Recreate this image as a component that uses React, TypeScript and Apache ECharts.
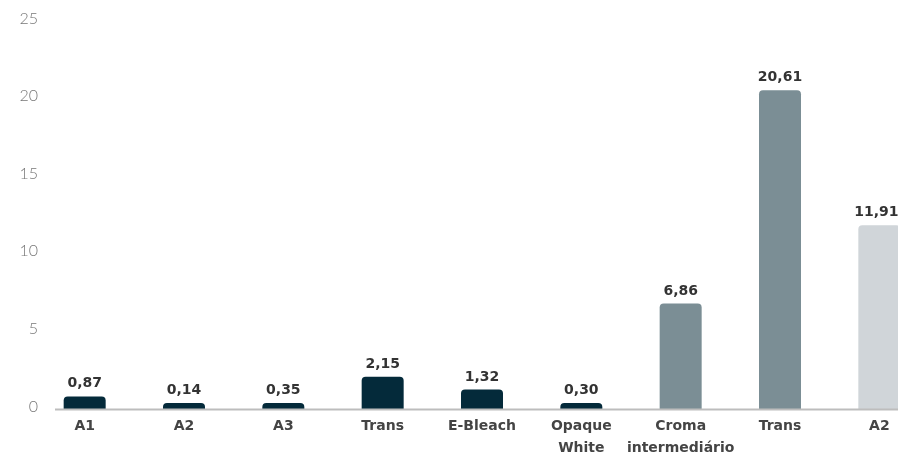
import React, { useEffect, useRef } from "react";
import * as echarts from "echarts";

const categories = ["A1", "A2", "A3", "Trans", "E-Bleach", "Opaque\nWhite", "Croma\nintermediário", "Trans", "A2"];
const values = [0.87, 0.14, 0.35, 2.15, 1.32, 0.3, 6.86, 20.61, 11.91];
const barColors = ["#042a3a", "#042a3a", "#042a3a", "#042a3a", "#042a3a", "#042a3a", "#7b8e95", "#7b8e95", "#d0d5d9"];
const yTicks = { min: 0, max: 25, interval: 5 };

export default function App() {
  const ref = useRef<HTMLDivElement>(null);
  useEffect(() => {
    if (!ref.current) return;
    const chart = echarts.init(ref.current, undefined, { renderer: "svg" });
    const last = values.length - 1;
    chart.setOption({
      animation: false,
      grid: { left: 35, right: 0, top: 22, height: 388, containLabel: false, outerBoundsMode: "none" },
      xAxis: {
        type: "category",
        data: categories,
        axisLine: { show: false },
        axisTick: { show: false },
        axisLabel: {
          interval: 0,
          color: "#444",
          fontFamily: "DejaVu Sans",
          fontWeight: "bold",
          fontSize: 14,
          lineHeight: 22,
          margin: 4,
        },
      },
      yAxis: {
        type: "value",
        min: yTicks.min,
        max: yTicks.max,
        interval: yTicks.interval,
        splitLine: { show: false },
        axisLine: { show: false },
        axisTick: { show: false },
        axisLabel: {
          color: "#777",
          fontFamily: "Lato",
          fontWeight: 300,
          fontSize: 16,
          margin: -3,
          verticalAlign: "bottom",
          lineHeight: 10,
        },
      },
      graphic: [
        {
          type: "line",
          shape: { x1: 55, y1: 409.5, x2: 898, y2: 409.5 },
          style: { stroke: "#bdbdbd", lineWidth: 2 },
          z: 10,
        },
      ],
      series: [
        {
          type: "bar",
          barWidth: 42,
          barMinHeight: 7,
          data: values.map((v, i) => ({
            value: v,
            itemStyle: { color: barColors[i], borderRadius: [4, 4, 0, 0] },
            label: i === last ? { offset: [-3, 0] } : undefined,
          })),
          label: {
            show: true,
            position: "top",
            distance: 7,
            color: "#333",
            fontFamily: "DejaVu Sans",
            fontWeight: "bold",
            fontSize: 14,
            formatter: (p: any) => p.value.toFixed(2).replace(".", ","),
          },
        },
      ],
    });
    return () => chart.dispose();
  }, []);
  return (
    <div style={{ position: "fixed", left: 0, top: 0, width: 898, height: 455, overflow: "hidden" }}>
      <div ref={ref} style={{ width: 929, height: 455 }} />
    </div>
  );
}
